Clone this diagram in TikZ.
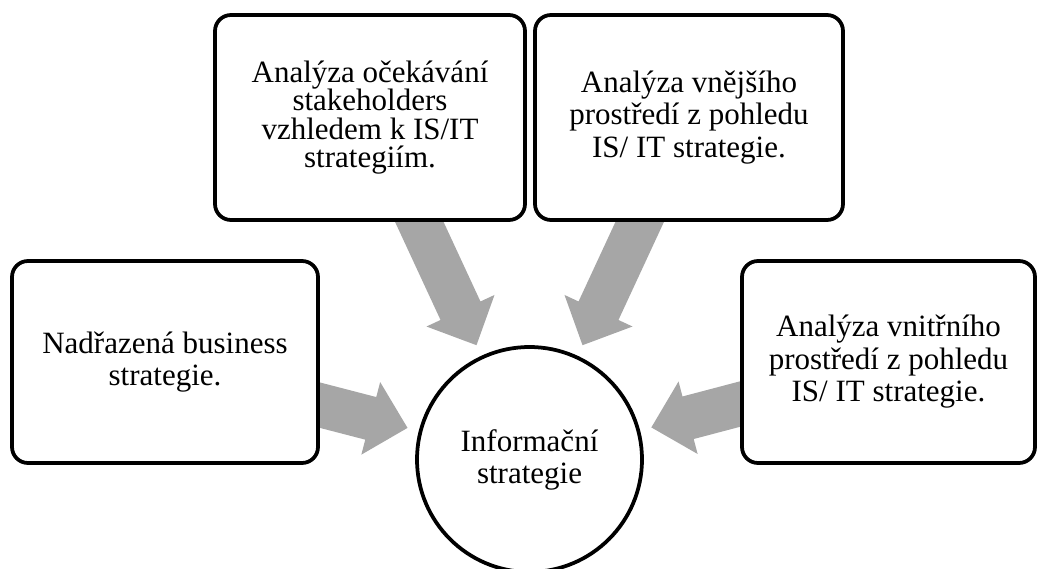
\documentclass[tikz,border=0pt]{standalone}
\usepackage{fontspec}
\setmainfont{Liberation Serif}
\usetikzlibrary{calc,backgrounds}
\definecolor{arrgray}{RGB}{166,166,166}
\tikzset{
  box/.style={draw, line width=3.75pt, rounded corners=16pt, fill=white,
    align=center, inner sep=0pt, font=\fontsize{31}{32.5}\selectfont},
  hub/.style={draw, circle, line width=3.75pt, fill=white, minimum size=225pt,
    align=center, inner sep=0pt, font=\fontsize{31}{32}\selectfont},
  fat/.style={fill=arrgray, draw=none}
}
\newcommand\BlockArr[3]{% #1 start coordinate, #2 tip coordinate, #3 id
  \coordinate (#3b) at ($(#2)!38pt!(#1)$);
  \fill[fat] ($(#1)!22pt!90:(#2)$) -- ($(#3b)!22pt!90:(#2)$) -- ($(#3b)!37.5pt!90:(#2)$)
    -- (#2) -- ($(#3b)!37.5pt!-90:(#2)$) -- ($(#3b)!22pt!-90:(#2)$)
    -- ($(#1)!22pt!-90:(#2)$) -- cycle;
}
\begin{document}
\begin{tikzpicture}[x=1pt, y=-1pt]
  \path[use as bounding box] (0,0) rectangle (1037,569);
  \node[box, minimum width=306pt, minimum height=202pt] (left) at (165,362)
    {Nadřazená business\\strategie.};
  \node[box, minimum width=310pt, minimum height=205pt,
        font=\fontsize{31}{28.5}\selectfont] (tl) at (370,117.5)
    {Analýza očekávání\\stakeholders\\vzhledem k IS/IT\\strategiím.};
  \node[box, minimum width=308pt, minimum height=205pt] (tr) at (689,117.5)
    {Analýza vnějšího\\prostředí z pohledu\\IS/ IT strategie.};
  \node[box, minimum width=293pt, minimum height=202pt] (right) at (888.5,362)
    {Analýza vnitřního\\prostředí z pohledu\\IS/ IT strategie.};
  \node[hub] (c) at (529.5,459.5) {Informační\\strategie};
  \coordinate (s1) at ($(tl.south)+(40,-20)$);
  \coordinate (s2) at ($(tr.south)+(-40,-20)$);
  \coordinate (s3) at ($(left.east)+(-18,38.5)$);
  \coordinate (s4) at ($(right.west)+(18,37.3)$);
  \coordinate (t1) at ($(c.center)!126pt!(s1)$);
  \coordinate (t2) at ($(c.center)!126pt!(s2)$);
  \coordinate (t3) at ($(c.center)!126pt!(s3)$);
  \coordinate (t4) at ($(c.center)!126pt!(s4)$);
  \begin{scope}[on background layer]
    \BlockArr{s1}{t1}{a}
    \BlockArr{s2}{t2}{b}
    \BlockArr{s3}{t3}{d}
    \BlockArr{s4}{t4}{e}
  \end{scope}
\end{tikzpicture}
\end{document}
